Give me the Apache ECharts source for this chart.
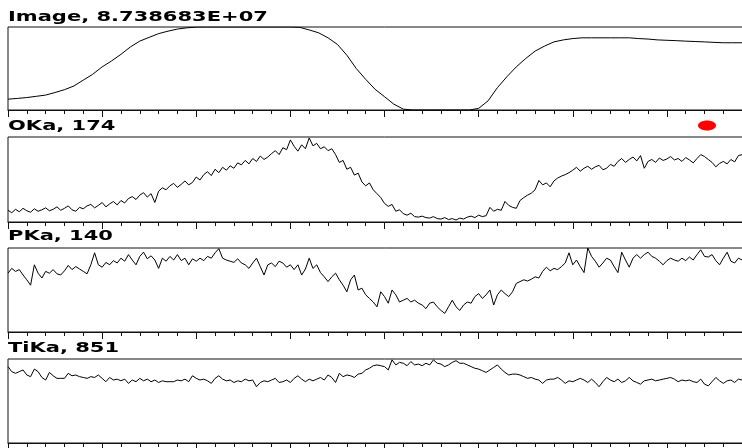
<!DOCTYPE html>
<html>
<head>
<meta charset="utf-8">
<script src="https://cdn.jsdelivr.net/npm/echarts@6/dist/echarts.min.js"></script>
<style>
  html, body { margin: 0; padding: 0; background: #fff; overflow: hidden; width: 742px; height: 448px; }
  /* the scan runs past the right edge of the visible window */
  #chart { width: 761px; height: 448px; }
</style>
</head>
<body>
<div id="chart"></div>
<script>
// Line-scan profiles: secondary-electron image intensity and three X-ray lines.
// Position axis is in tick units (40 ticks across the scan).
const X_MAX = 40;
const IMAGE_STEP = 0.5;   // spacing of image samples
const XRAY_STEP = 0.2;    // spacing of X-ray samples

const panelTitles = ["Image, 8.738683E+07", "OKa, 174", "PKa, 140", "TiKa, 851"];
const panelMax = [87.38683, 174, 140, 851];   // image in units of 1e6

// Image intensity (x 1e6)
const imageValues = [
  11.4, 12.2, 13.1, 14.4, 15.7, 18.4, 21.4, 25.3, 31.5, 37.6,
  45.4, 51.6, 58.6, 66.4, 72.5, 76.5, 80.4, 83.0, 85.2, 86.5,
  87.3, 87.39, 87.39, 87.39, 87.39, 87.39, 87.39, 87.39, 87.39, 87.39,
  87.39, 87.0, 84.3, 81.3, 76.0, 69.0, 57.7, 43.7, 32.3, 21.8,
  14.0, 6.1, 0.9, 0, 0, 0, 0, 0, 0, 0,
  1.7, 9.6, 23.6, 35.0, 45.4, 54.2, 62.0, 67.3, 71.7, 73.8,
  75.2, 76.0, 76.0, 76.0, 76.0, 76.0, 76.0, 75.2, 74.7, 73.8,
  73.4, 73.0, 72.5, 72.1, 71.7, 71.2, 70.8, 70.8, 70.8
];

// O K-alpha counts
const okaValues = [
  24, 19, 26, 21, 28, 23, 20, 27, 22, 25,
  29, 23, 26, 31, 24, 28, 33, 25, 22, 30,
  27, 33, 36, 29, 34, 40, 31, 37, 42, 35,
  44, 39, 48, 52, 46, 55, 60, 51, 58, 40,
  63, 70, 66, 74, 79, 71, 77, 84, 76, 81,
  92, 86, 97, 103, 95, 108, 101, 112, 106, 115,
  110, 121, 117, 126, 119, 130, 124, 135, 128, 133,
  140, 146, 138, 152, 148, 168, 155, 145, 158, 150,
  172, 156, 161, 150, 154, 146, 150, 138, 122, 126,
  108, 112, 96, 100, 82, 74, 80, 66, 58, 50,
  38, 32, 36, 22, 25, 17, 14, 18, 11, 10,
  12, 9, 8, 11, 7, 6, 9, 5, 7, 4,
  8, 6, 10, 12, 9, 14, 11, 13, 30, 22,
  26, 24, 42, 34, 30, 28, 44, 50, 55, 59,
  66, 85, 76, 80, 72, 84, 90, 94, 97, 101,
  106, 112, 104, 110, 114, 108, 113, 116, 107, 110,
  118, 114, 124, 130, 122, 128, 133, 125, 136, 110,
  124, 128, 122, 131, 126, 129, 134, 127, 130, 124,
  132, 127, 121, 130, 138, 134, 128, 122, 113, 120,
  124, 119, 128, 123, 136, 138
];

// P K-alpha counts
const pkaValues = [
  98, 106, 101, 104, 95, 87, 78, 112, 98, 90,
  101, 98, 104, 97, 95, 102, 111, 104, 109, 105,
  101, 97, 112, 132, 112, 108, 116, 112, 119, 115,
  123, 118, 129, 120, 112, 126, 133, 122, 127, 120,
  106, 123, 118, 126, 120, 129, 119, 123, 112, 122,
  118, 123, 119, 126, 123, 132, 139, 123, 120, 118,
  116, 122, 115, 112, 106, 115, 123, 109, 95, 112,
  115, 109, 118, 115, 108, 112, 104, 112, 95, 105,
  123, 106, 112, 99, 92, 84, 92, 98, 87, 78,
  67, 87, 95, 70, 73, 62, 56, 50, 42, 67,
  59, 48, 70, 62, 50, 53, 56, 50, 53, 48,
  45, 39, 48, 50, 42, 36, 31, 42, 53, 42,
  36, 45, 50, 48, 59, 64, 56, 62, 70, 45,
  62, 70, 64, 59, 67, 81, 84, 87, 85, 88,
  92, 90, 101, 108, 102, 106, 104, 109, 115, 132,
  112, 120, 109, 99, 140, 126, 118, 108, 115, 123,
  120, 109, 99, 133, 120, 108, 123, 129, 123, 129,
  133, 126, 123, 118, 112, 119, 123, 120, 118, 123,
  119, 125, 120, 129, 137, 126, 125, 129, 119, 112,
  123, 133, 118, 115, 123, 120
];

// Ti K-alpha counts
const tikaValues = [
  774, 723, 706, 723, 740, 689, 672, 749, 723, 664,
  638, 715, 681, 655, 655, 655, 706, 681, 689, 672,
  664, 655, 672, 664, 689, 655, 621, 664, 638, 647,
  630, 647, 604, 638, 621, 655, 630, 647, 621, 638,
  613, 630, 621, 621, 621, 638, 630, 647, 621, 681,
  655, 638, 647, 630, 604, 655, 681, 647, 630, 638,
  613, 630, 621, 647, 630, 638, 570, 613, 630, 621,
  638, 655, 613, 621, 638, 613, 655, 681, 647, 621,
  647, 630, 647, 664, 638, 689, 664, 613, 706, 672,
  689, 681, 664, 698, 706, 740, 757, 783, 791, 783,
  774, 740, 842, 791, 817, 808, 783, 825, 791, 800,
  783, 808, 791, 842, 808, 800, 774, 791, 817, 834,
  808, 808, 791, 774, 757, 749, 732, 715, 740, 766,
  791, 749, 715, 689, 698, 698, 689, 672, 655, 664,
  647, 638, 604, 638, 647, 647, 664, 638, 604, 630,
  621, 638, 655, 638, 613, 647, 613, 570, 621, 664,
  638, 621, 647, 613, 630, 664, 630, 613, 596, 630,
  638, 647, 630, 638, 647, 655, 664, 647, 621, 638,
  630, 638, 621, 613, 647, 596, 579, 621, 664, 630,
  604, 630, 638, 613, 647, 638
];

const seriesValues = [imageValues, okaValues, pkaValues, tikaValues];
const seriesSteps = [IMAGE_STEP, XRAY_STEP, XRAY_STEP, XRAY_STEP];

// Panel boxes (pixels)
const PLOT_LEFT = 8;
const PLOT_RIGHT = 0;
const panelTop = [27, 137, 248, 359];
const panelHeight = [83, 85, 84, 84];
const titleTop = [10, 119, 229, 341];

const grids = [], xAxes = [], yAxes = [], series = [], graphics = [];

for (let p = 0; p < 4; p++) {
  grids.push({
    left: PLOT_LEFT, right: PLOT_RIGHT, top: panelTop[p], height: panelHeight[p],
    show: true, borderColor: '#111', borderWidth: 1, backgroundColor: 'transparent'
  });
  xAxes.push({
    type: 'value', gridIndex: p, min: 0, max: X_MAX, interval: 5,
    axisLine: { show: true, onZero: false, lineStyle: { color: '#111', width: 1 } },
    axisTick: { show: true, length: 7, lineStyle: { color: '#111', width: 1 } },
    minorTick: { show: true, splitNumber: 5, length: 4, lineStyle: { color: '#111', width: 1 } },
    axisLabel: { show: false },
    splitLine: { show: false },
    minorSplitLine: { show: false }
  });
  yAxes.push({
    type: 'value', gridIndex: p, min: 0, max: panelMax[p],
    axisLine: { show: false }, axisTick: { show: false },
    axisLabel: { show: false }, splitLine: { show: false }
  });
  const step = seriesSteps[p];
  series.push({
    type: 'line', xAxisIndex: p, yAxisIndex: p,
    data: seriesValues[p].map((v, i) => [i * step, v]),
    showSymbol: false, symbol: 'none',
    lineStyle: { color: '#000', width: 1 },
    clip: true, animation: false
  });
  graphics.push({
    type: 'text', x: PLOT_LEFT, y: titleTop[p],
    scaleX: 1.5, scaleY: 1,
    style: {
      text: panelTitles[p],
      font: 'bold 14px "DejaVu Sans"',
      fill: '#000',
      verticalAlign: 'top'
    }
  });
}

// Red position marker beside the O K-alpha title
graphics.push({
  type: 'ellipse',
  shape: { cx: 707, cy: 125.5, rx: 9, ry: 5 },
  style: { fill: '#ff0000' }
});

const chart = echarts.init(document.getElementById('chart'), null, { renderer: 'canvas' });
chart.setOption({
  backgroundColor: '#fff',
  animation: false,
  grid: grids,
  xAxis: xAxes,
  yAxis: yAxes,
  series: series,
  graphic: graphics
});
</script>
</body>
</html>
